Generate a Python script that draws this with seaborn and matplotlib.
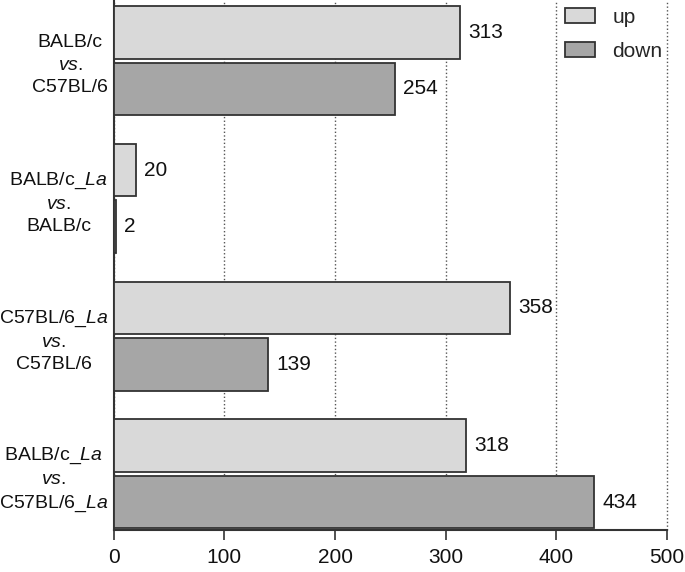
import pandas as pd
import matplotlib.pyplot as plt
import seaborn as sns

# comparisons (label lines) and counts
comparisons = [
    "BALB/c\n$\\mathit{vs.}$\nC57BL/6",
    "BALB/c_$\\mathit{La}$\n$\\mathit{vs.}$\nBALB/c",
    "C57BL/6_$\\mathit{La}$\n$\\mathit{vs.}$\nC57BL/6",
    "BALB/c_$\\mathit{La}$\n$\\mathit{vs.}$\nC57BL/6_$\\mathit{La}$",
]
up = [313, 20, 358, 318]
down = [254, 2, 139, 434]
directions = ["up", "down"]
colors = ["#d9d9d9", "#a6a6a6"]

data = pd.DataFrame({
    "comparison": comparisons * 2,
    "count": up + down,
    "direction": ["up"] * len(up) + ["down"] * len(down),
})

sns.set_style("white")
plt.rcParams['font.family'] = ['Liberation Sans', 'DejaVu Sans']
plt.rcParams['mathtext.fontset'] = 'custom'
plt.rcParams['mathtext.it'] = 'Liberation Sans:italic'
plt.rcParams['mathtext.rm'] = 'Liberation Sans'

fig = plt.figure(figsize=(6.85, 5.72), dpi=100)
ax = fig.add_axes([0.166, 0.073, 0.808, 0.927])

sns.barplot(data=data, y="comparison", x="count", hue="direction",
            hue_order=directions, palette=colors, orient="h",
            width=0.82, gap=0.07, edgecolor="#333333", linewidth=1.3,
            ax=ax, zorder=3)

for cont in ax.containers:
    ax.bar_label(cont, padding=6, fontsize=15, color="#111111")

ax.set_xlim(0, 500)
ax.set_ylim(3.41, -0.44)
ax.set_xticks([0, 100, 200, 300, 400, 500])
ax.xaxis.grid(True, linestyle=":", color="#555555", linewidth=1, zorder=0)
ax.yaxis.grid(False)
ax.set_axisbelow(True)
for gl in ax.get_xgridlines():
    gl.set_clip_on(False)

ax.set_xlabel("")
ax.set_ylabel("")
ax.tick_params(axis="x", direction="out", length=7, width=1.2, color="#333333",
               labelsize=15, labelcolor="#111111", bottom=True, pad=6)
ax.tick_params(axis="y", length=0, labelsize=14, labelcolor="#111111", pad=4)
for lab in ax.get_yticklabels():
    lab.set_multialignment("center")
    lab.set_linespacing(1.4)

for side in ["top", "right"]:
    ax.spines[side].set_visible(False)
for side in ["left", "bottom"]:
    ax.spines[side].set_color("#333333")
    ax.spines[side].set_linewidth(1.5)

ax.legend(title=None, frameon=False, loc="upper right",
          bbox_to_anchor=(1.025, 1.02), fontsize=15, handlelength=1.45,
          handleheight=0.72, labelspacing=0.7, handletextpad=0.8)

fig.savefig("out.png", dpi=100)
